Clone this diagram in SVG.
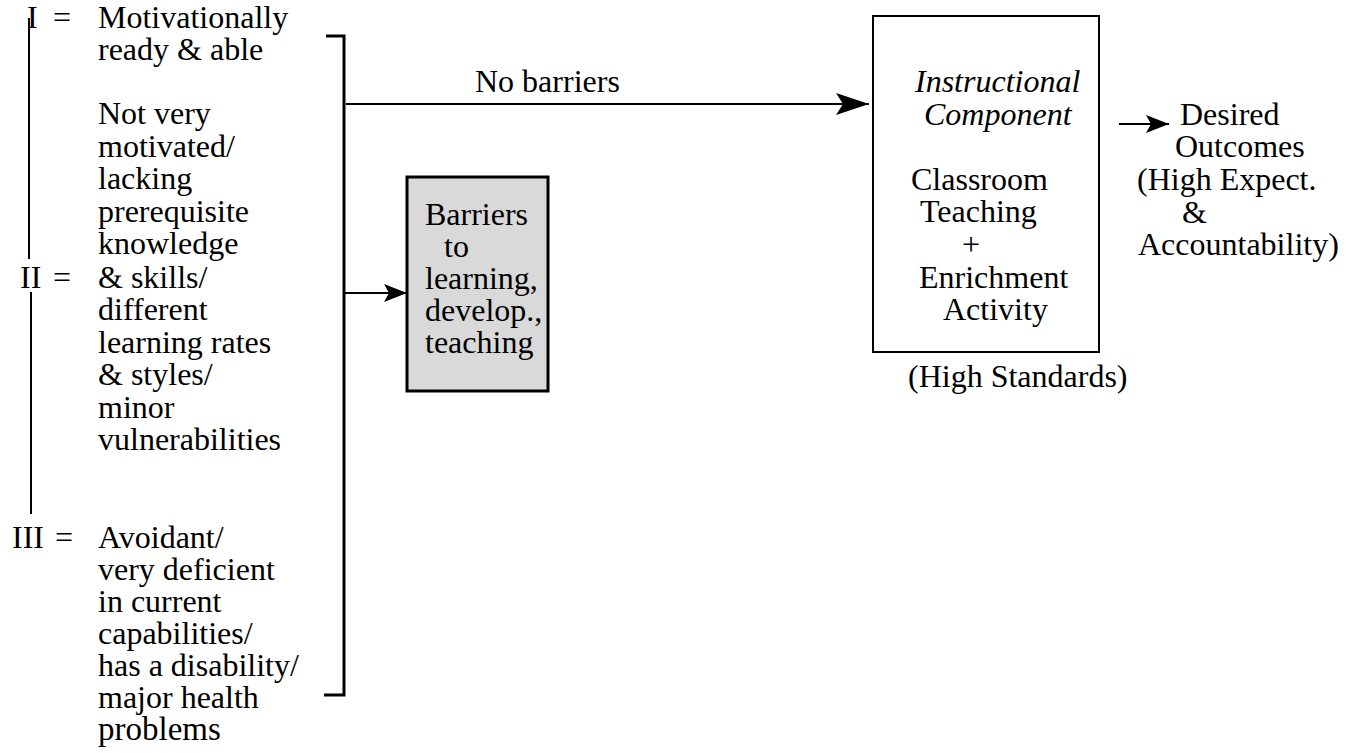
<svg xmlns="http://www.w3.org/2000/svg" width="1353" height="753" viewBox="0 0 1353 753" font-family="'Liberation Serif', 'Times New Roman', serif">
<style>
text{font-family:'Liberation Serif','Times New Roman',serif;font-size:32px;fill:#000}
.it{font-style:italic}
.ln{stroke:#000;fill:none}
</style>
<defs>
<marker id="big" markerUnits="userSpaceOnUse" markerWidth="34" markerHeight="24" refX="33" refY="12" orient="auto">
<path d="M33,12 L0,1 L7,12 L0,23 Z" fill="#000"/>
</marker>
<marker id="sm" markerUnits="userSpaceOnUse" markerWidth="24" markerHeight="20" refX="23" refY="10" orient="auto">
<path d="M23,10 L0,1 L5,10 L0,19 Z" fill="#000"/>
</marker>
</defs>
<rect width="1353" height="753" fill="#fff"/>

<g id="levels">
<line class="ln" x1="29" y1="18" x2="29" y2="259" stroke-width="2"/>
<line class="ln" x1="31" y1="292" x2="31" y2="514" stroke-width="2"/>
<text x="27" y="28">I</text><text x="53" y="28">=</text>
<text x="20" y="288">II</text><text x="53" y="288">=</text>
<text x="12" y="548">III</text><text x="55" y="548">=</text>
<text x="98" y="28">Motivationally</text>
<text x="98" y="60">ready &amp; able</text>
<text x="98" y="124">Not very</text>
<text x="98" y="157">motivated/</text>
<text x="98" y="189">lacking</text>
<text x="98" y="222">prerequisite</text>
<text x="98" y="254">knowledge</text>
<text x="98" y="288">&amp; skills/</text>
<text x="98" y="320">different</text>
<text x="98" y="353">learning rates</text>
<text x="98" y="385">&amp; styles/</text>
<text x="98" y="418">minor</text>
<text x="98" y="450">vulnerabilities</text>
<text x="98" y="548">Avoidant/</text>
<text x="98" y="580">very deficient</text>
<text x="98" y="612">in current</text>
<text x="98" y="644">capabilities/</text>
<text x="98" y="676">has a disability/</text>
<text x="98" y="708">major health</text>
<text x="98" y="740" style="font-size:33px">problems</text>
</g>

<g id="bracket">
<path class="ln" d="M326,36 H344 V695 H324" stroke-width="3"/>
</g>

<g id="barriers">
<rect x="407" y="177" width="141" height="214" fill="#d9d9d9" stroke="#000" stroke-width="3"/>
<text x="425" y="225">Barriers</text>
<text x="444" y="257">to</text>
<text x="425" y="289">learning,</text>
<text x="425" y="321">develop.,</text>
<text x="425" y="353">teaching</text>
</g>

<g id="instructional">
<rect x="873" y="16" width="226" height="336" fill="none" stroke="#000" stroke-width="2"/>
<text class="it" x="915" y="92">Instructional</text>
<text class="it" x="924" y="125">Component</text>
<text x="911" y="190">Classroom</text>
<text x="920" y="222">Teaching</text>
<text x="962" y="255">+</text>
<text x="919" y="288">Enrichment</text>
<text x="943" y="320">Activity</text>
<text x="908" y="387">(High Standards)</text>
</g>

<g id="outcomes">
<text x="1180" y="125">Desired</text>
<text x="1175" y="157">Outcomes</text>
<text x="1137" y="190">(High Expect.</text>
<text x="1182" y="223">&amp;</text>
<text x="1138" y="255">Accountability)</text>
</g>

<g id="connectors">
<line class="ln" x1="346" y1="104" x2="869" y2="104" stroke-width="2" marker-end="url(#big)"/>
<text x="475" y="92">No barriers</text>
<line class="ln" x1="344" y1="293" x2="407" y2="293" stroke-width="2" marker-end="url(#sm)"/>
<line class="ln" x1="1119" y1="124" x2="1169" y2="124" stroke-width="2" marker-end="url(#sm)"/>
</g>
</svg>
